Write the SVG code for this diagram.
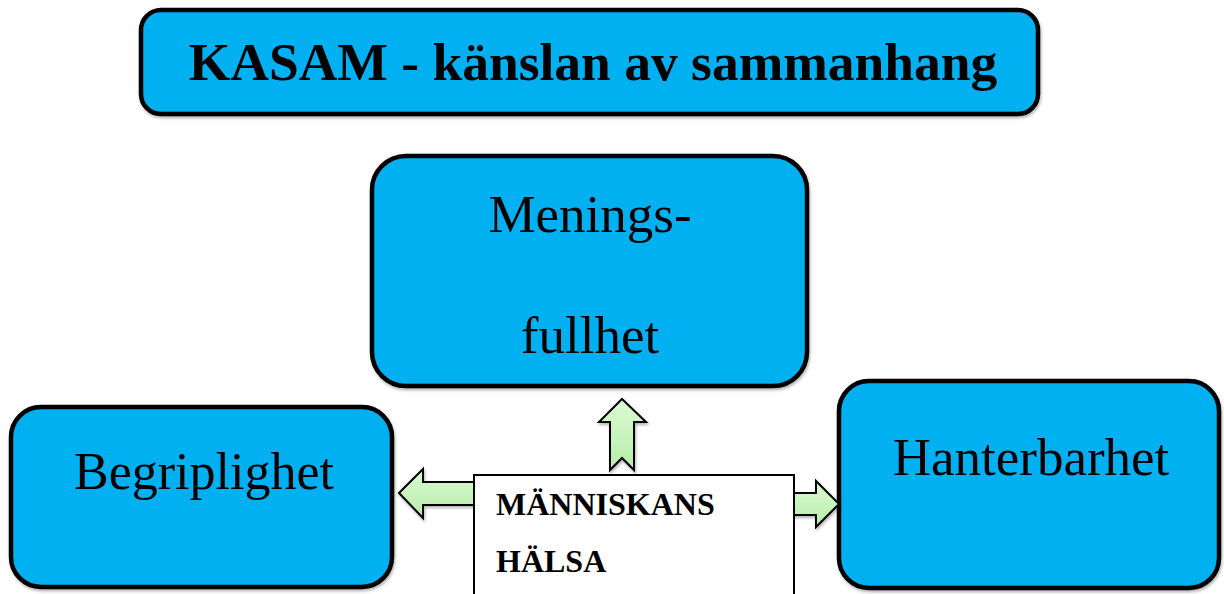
<svg xmlns="http://www.w3.org/2000/svg" width="1224" height="594" viewBox="0 0 1224 594">
<style>
.box{fill:#00B0F0;stroke:#000;stroke-width:4.5}
.t{font-family:"Liberation Serif","Times New Roman",serif;fill:#000}
.arr{fill:url(#g);stroke:#000;stroke-width:2;stroke-linejoin:miter}
</style>
<defs>
<linearGradient id="g" x1="0" y1="0" x2="0" y2="1">
<stop offset="0" stop-color="#dcfbd3"/>
<stop offset="1" stop-color="#b6eca9"/>
</linearGradient>
<filter id="sh" x="-10%" y="-10%" width="130%" height="130%">
<feDropShadow dx="1" dy="2" stdDeviation="1.5" flood-color="#000" flood-opacity="0.3"/>
</filter>
</defs>
<rect width="1224" height="594" fill="#fff"/>
<g id="title" filter="url(#sh)">
<rect class="box" x="141" y="10" width="897" height="104" rx="20"/>
<text class="t" x="593" y="80" font-size="53.5" font-weight="bold" text-anchor="middle">KASAM - känslan av sammanhang</text>
</g>
<g id="meningsfullhet" filter="url(#sh)">
<rect class="box" x="372" y="156" width="435" height="230" rx="34"/>
<text class="t" x="590" y="232" font-size="53" text-anchor="middle">Menings-</text>
<text class="t" x="590" y="353" font-size="53" text-anchor="middle">fullhet</text>
</g>
<g id="begriplighet" filter="url(#sh)">
<rect class="box" x="11" y="407" width="381" height="180" rx="30"/>
<text class="t" x="204" y="489" font-size="52" text-anchor="middle">Begriplighet</text>
</g>
<g id="hanterbarhet" filter="url(#sh)">
<rect class="box" x="839" y="381" width="380" height="207" rx="30"/>
<text class="t" x="1031" y="475" font-size="53" text-anchor="middle">Hanterbarhet</text>
</g>
<g id="connectors" filter="url(#sh)">
<polygon class="arr" points="622,399 646,422 634,422 634,470 622,458 610,470 610,422 599,422"/>
<polygon class="arr" points="399,493 423,469 423,482 476,482 476,505 423,505 423,518"/>
<polygon class="arr" points="792,493 816,493 816,481 839,504 816,527 816,515 792,515"/>
</g>
<g id="manniskans-halsa">
<rect x="474" y="475" width="320" height="130" fill="#fff" stroke="#000" stroke-width="2"/>
<text class="t" x="496" y="515" font-size="32" font-weight="bold">MÄNNISKANS</text>
<text class="t" x="496" y="572" font-size="32" font-weight="bold">HÄLSA</text>
</g>
</svg>
